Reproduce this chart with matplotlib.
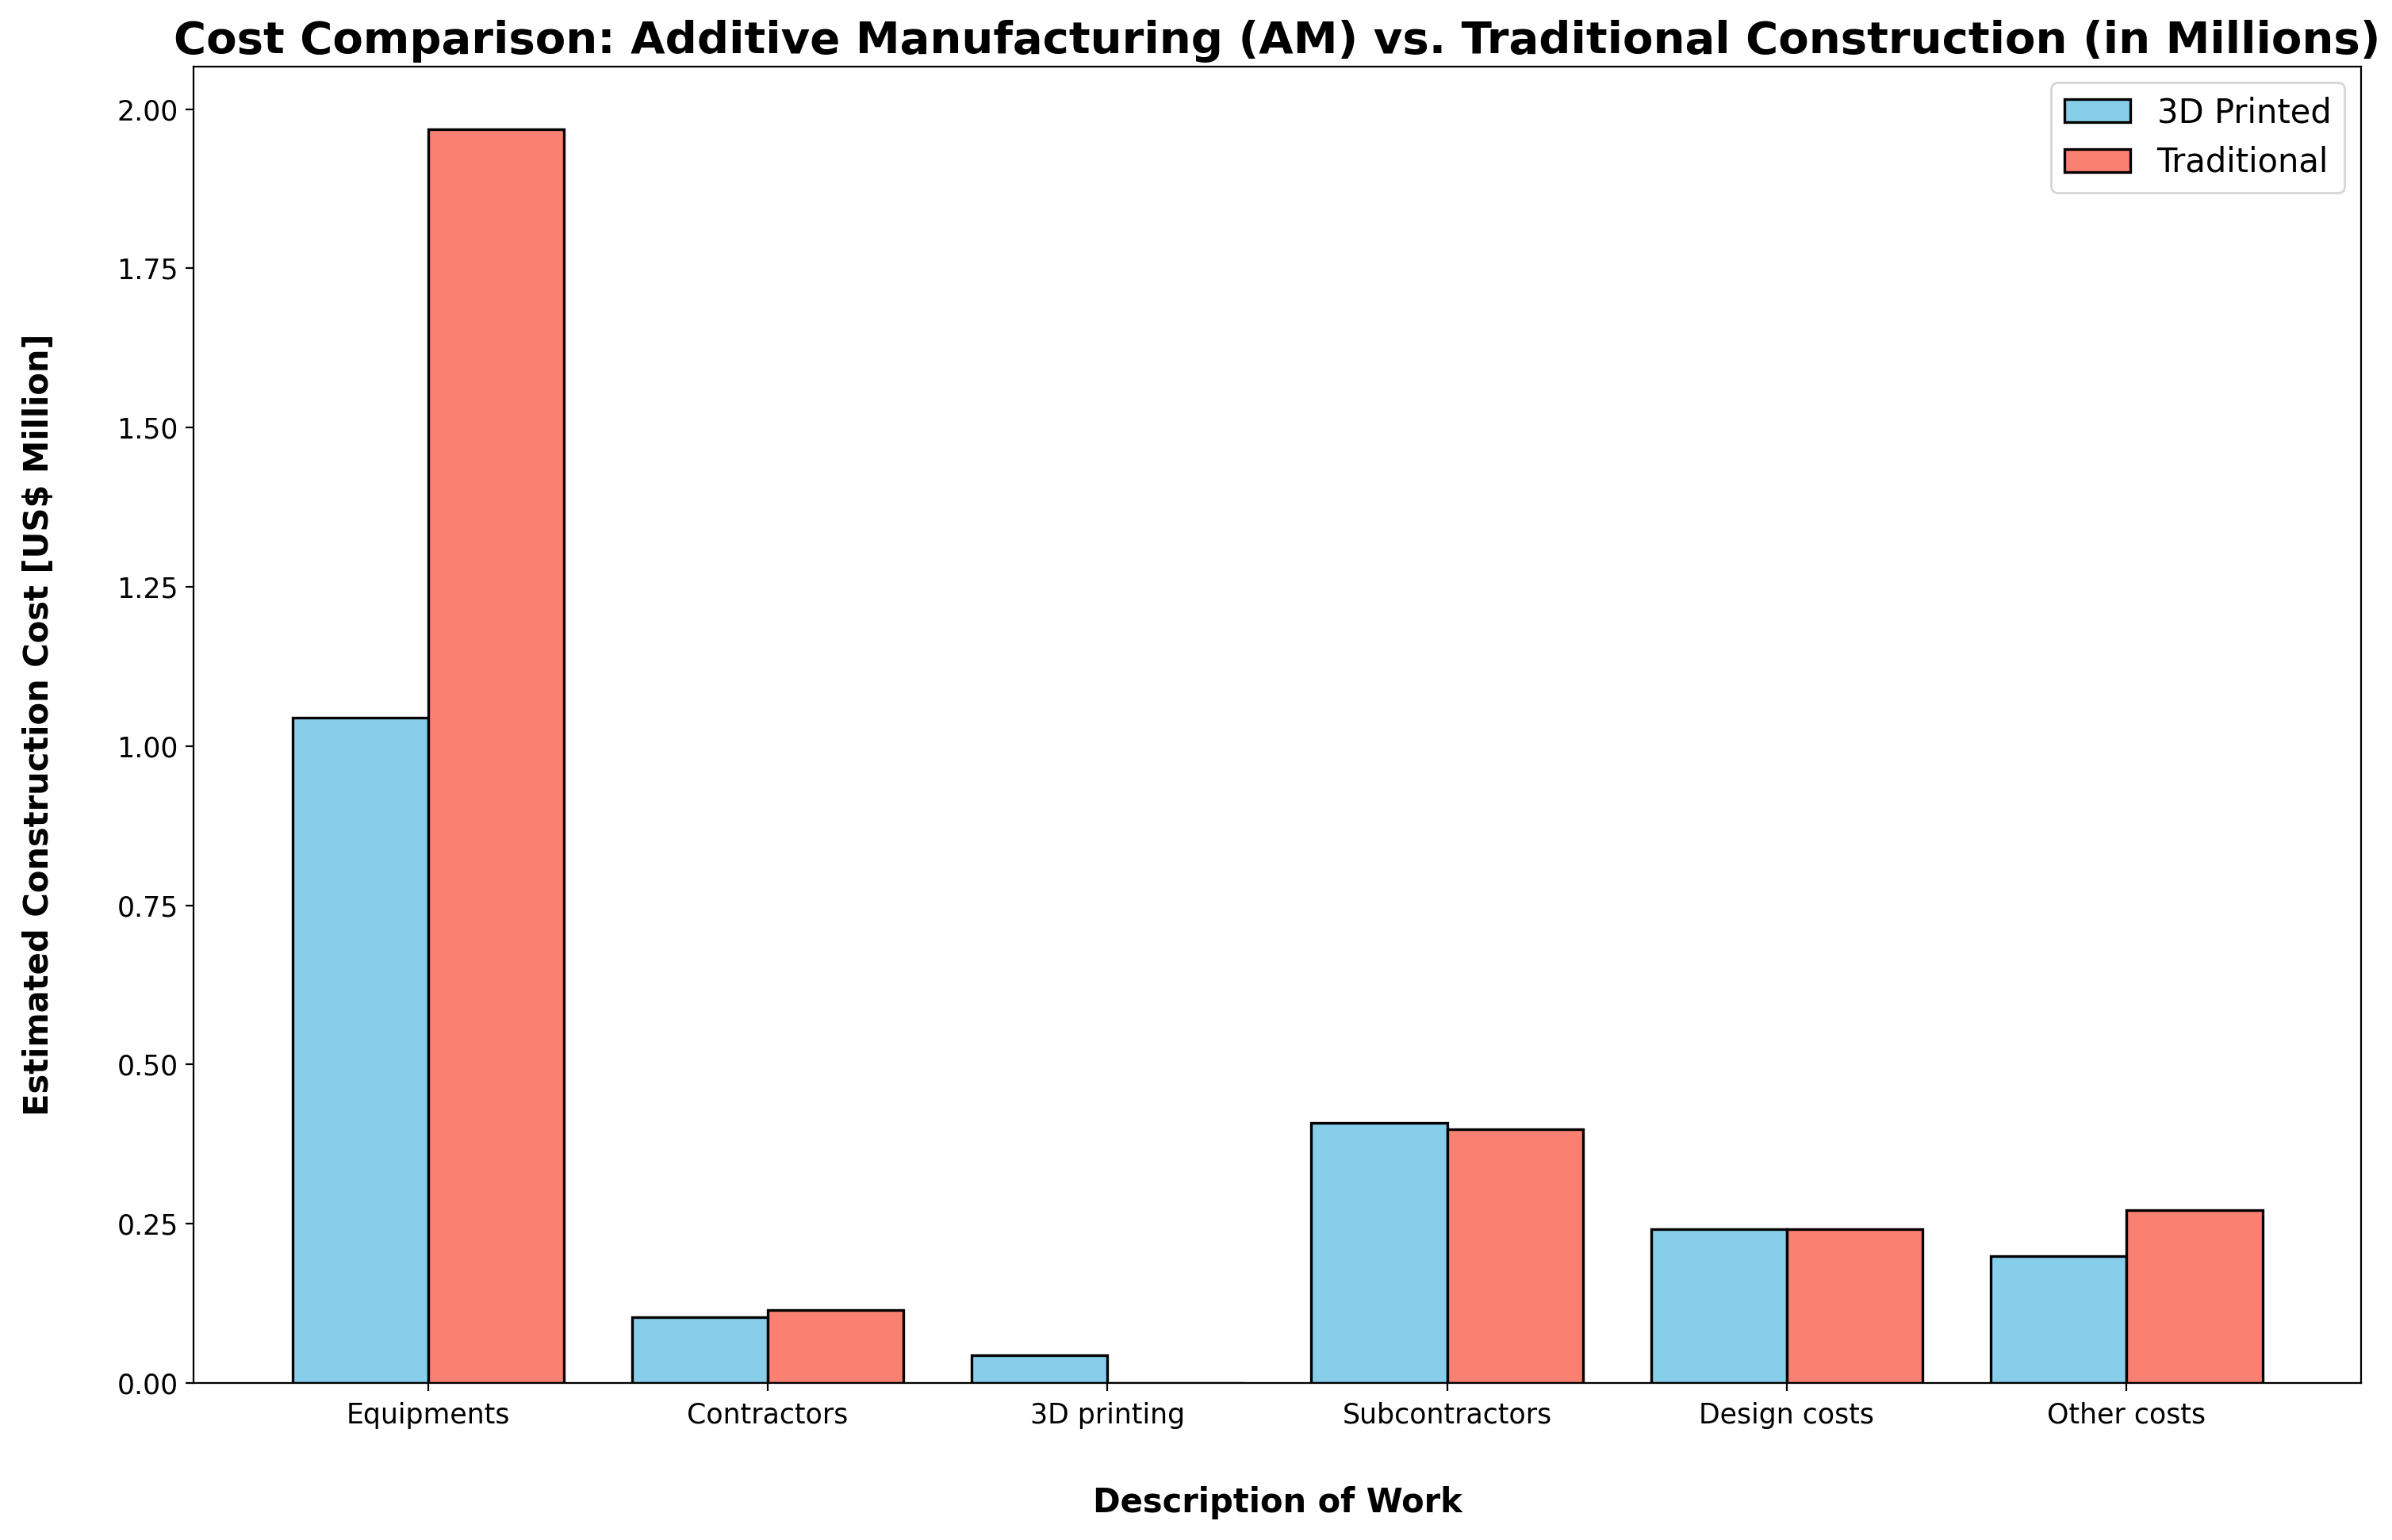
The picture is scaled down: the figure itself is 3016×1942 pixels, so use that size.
import numpy as np
import matplotlib.pyplot as plt

# data
categories = ['Equipments', 'Contractors', '3D printing', 'Subcontractors', 'Design costs', 'Other costs']
printed_3d = [1.045, 0.103, 0.043, 0.408, 0.242, 0.199]
traditional = [1.969, 0.115, 0.0, 0.398, 0.242, 0.271]

x = np.arange(len(categories))
width = 0.4

fig, ax = plt.subplots(figsize=(15.08, 9.71), dpi=200)
fig.subplots_adjust(left=0.081, right=0.987, top=0.957, bottom=0.102)

ax.bar(x - width / 2, printed_3d, width, label='3D Printed', color='skyblue', edgecolor='black', linewidth=1.2)
ax.bar(x + width / 2, traditional, width, label='Traditional', color='salmon', edgecolor='black', linewidth=1.2)

ax.set_xticks(x)
ax.set_xticklabels(categories, fontsize=12.5)
ax.tick_params(axis='x', pad=5)
ax.tick_params(axis='y', labelsize=12.5)

ax.set_xlabel('Description of Work', fontsize=15, fontweight='bold', labelpad=26)
ax.set_ylabel('Estimated Construction Cost [US$ Million]', fontsize=15, fontweight='bold', labelpad=28)
ax.set_title('Cost Comparison: Additive Manufacturing (AM) vs. Traditional Construction (in Millions)',
             fontsize=20.2, fontweight='bold', pad=6)

ax.legend(loc='upper right', fontsize=15)

plt.savefig('out.png')
